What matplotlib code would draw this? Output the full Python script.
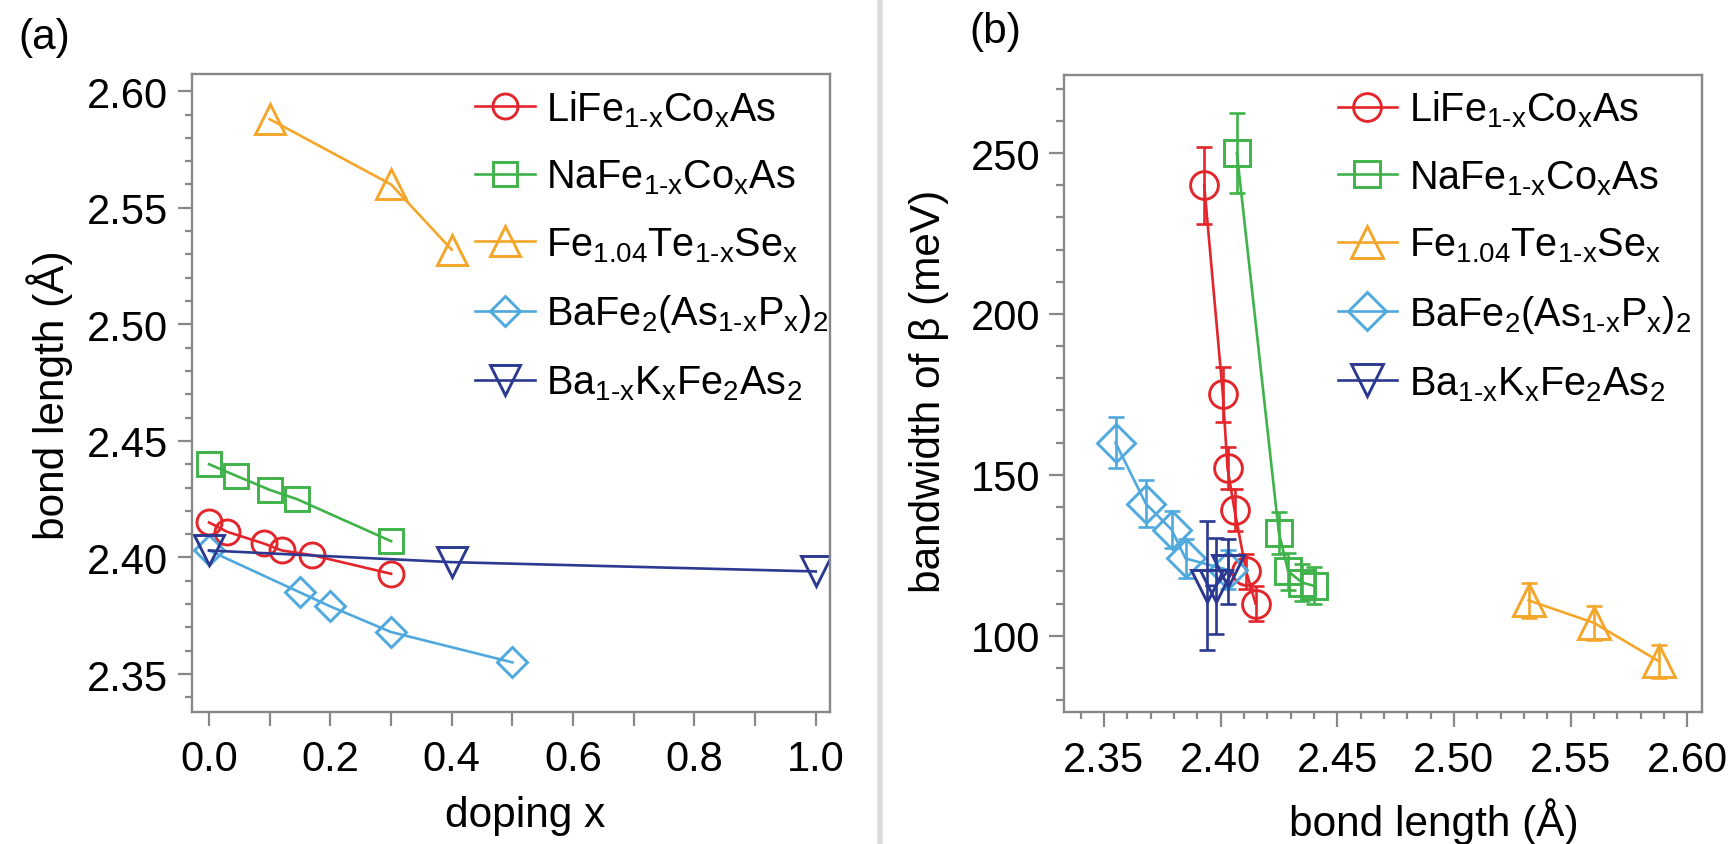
import numpy as np
import matplotlib
matplotlib.use('Agg')
import matplotlib.pyplot as plt
from matplotlib.ticker import MultipleLocator, FormatStrFormatter
from matplotlib.lines import Line2D

plt.rcParams['font.family'] = ['Liberation Sans', 'DejaVu Sans']
plt.rcParams['mathtext.fontset'] = 'custom'
plt.rcParams['mathtext.rm'] = 'Liberation Sans'
plt.rcParams['mathtext.it'] = 'Liberation Sans:italic'
plt.rcParams['mathtext.default'] = 'regular'

# series names
names = [r"LiFe$_{1\text{-}x}$Co$_{x}$As",
         r"NaFe$_{1\text{-}x}$Co$_{x}$As",
         r"Fe$_{1.04}$Te$_{1\text{-}x}$Se$_{x}$",
         r"BaFe$_{2}$(As$_{1\text{-}x}$P$_{x}$)$_{2}$",
         r"Ba$_{1\text{-}x}$K$_{x}$Fe$_{2}$As$_{2}$"]

# panel (a): doping x vs bond length
doping_li = [0.0, 0.03, 0.09, 0.12, 0.17, 0.30]
bond_li = [2.415, 2.411, 2.406, 2.403, 2.401, 2.393]
doping_na = [0.0, 0.045, 0.10, 0.145, 0.30]
bond_na = [2.440, 2.435, 2.429, 2.425, 2.407]
doping_fe = [0.10, 0.30, 0.40]
bond_fe = [2.588, 2.560, 2.532]
doping_p = [0.0, 0.15, 0.20, 0.30, 0.50]
bond_p = [2.403, 2.385, 2.379, 2.368, 2.355]
doping_k = [0.0, 0.40, 1.00]
bond_k = [2.403, 2.398, 2.394]

# panel (b): bandwidth of beta (meV) and its error, same order as bond lists
bw_li = [110, 120, 139, 152, 175, 240]
err_li = [5.5, 5.5, 6.5, 6.5, 8.5, 12]
bw_na = [115.5, 116.5, 120, 132, 250]
err_na = [5.7, 5.7, 5.7, 6.5, 12.4]
bw_fe = [92, 104, 111]
err_fe = [5, 5.3, 5.5]
bw_p = [120.5, 124, 133, 141, 160]
err_p = [6, 6, 5.7, 7.3, 8]
bw_k = [120, 115.5, 115.5]
err_k = [10, 15, 20]

colors = ['#e3262b', '#3fb34a', '#f4a62a', '#4fa9dd', '#2b3990']
markers = ['o', 's', '^', 'D', 'v']
ms_a = [18, 17.5, 22, 15, 22]
ms_b = [20, 18.5, 23.5, 19, 23.5]

FS_TICK = 30
FS_LAB = 30.5
FS_LEG = 28.5
spine_c = '#888888'

fig = plt.figure(figsize=(17.29, 8.45), dpi=100)
ax1 = fig.add_axes([0.1109, 0.1559, 0.3692, 0.7554])
ax2 = fig.add_axes([0.6155, 0.1559, 0.3687, 0.7546])

fig.add_artist(Line2D([0.509, 0.509], [0, 1], transform=fig.transFigure,
                      color='#dcdcdc', lw=4))

xs_a = [doping_li, doping_na, doping_fe, doping_p, doping_k]
ys = [bond_li, bond_na, bond_fe, bond_p, bond_k]
bws = [bw_li, bw_na, bw_fe, bw_p, bw_k]
errs = [err_li, err_na, err_fe, err_p, err_k]

for i in range(5):
    ax1.plot(xs_a[i], ys[i], color=colors[i], marker=markers[i], ms=ms_a[i],
             mfc='none', mec=colors[i], mew=2.1, lw=1.9, label=names[i])
    ax2.errorbar(ys[i], bws[i], yerr=errs[i], fmt='none', ecolor=colors[i],
                 elinewidth=1.9, capsize=5.5, capthick=1.9)
    ax2.plot(ys[i], bws[i], color=colors[i], marker=markers[i], ms=ms_b[i],
             mfc='none', mec=colors[i], mew=2.1, lw=1.9, label=names[i])

def style(ax):
    for s in ax.spines.values():
        s.set_color(spine_c)
        s.set_linewidth(1.7)
    ax.tick_params(which='both', direction='out', colors=spine_c,
                   labelcolor='black', labelsize=FS_TICK, width=1.6,
                   top=False, right=False)

# panel (a)
style(ax1)
ax1.set_xlim(-0.0285, 1.0236)
ax1.set_ylim(2.3336, 2.6074)
ax1.xaxis.set_major_locator(MultipleLocator(0.2))
ax1.xaxis.set_minor_locator(MultipleLocator(0.1))
ax1.xaxis.set_major_formatter(FormatStrFormatter('%.1f'))
ax1.yaxis.set_major_locator(MultipleLocator(0.05))
ax1.yaxis.set_minor_locator(MultipleLocator(0.01))
ax1.yaxis.set_major_formatter(FormatStrFormatter('%.2f'))
ax1.tick_params(axis='x', which='both', length=10, pad=9)
ax1.tick_params(axis='y', which='major', length=10, pad=7)
ax1.tick_params(axis='y', which='minor', length=5)
ax1.set_xlabel('doping x', fontsize=FS_LAB)
ax1.set_ylabel('bond length (Å)', fontsize=FS_LAB)
ax1.xaxis.set_label_coords(0.522, -0.161)
ax1.xaxis.label.set_verticalalignment('center')
ax1.yaxis.set_label_coords(-0.222, 0.499)
ax1.yaxis.label.set_verticalalignment('center')

# panel (b)
style(ax2)
ax2.set_xlim(2.333, 2.6062)
ax2.set_ylim(76.2, 274.4)
ax2.xaxis.set_major_locator(MultipleLocator(0.05))
ax2.xaxis.set_minor_locator(MultipleLocator(0.01))
ax2.xaxis.set_major_formatter(FormatStrFormatter('%.2f'))
ax2.yaxis.set_major_locator(MultipleLocator(50))
ax2.yaxis.set_minor_locator(MultipleLocator(10))
ax2.tick_params(axis='x', which='major', length=11, pad=9)
ax2.tick_params(axis='x', which='minor', length=5)
ax2.tick_params(axis='y', which='major', length=11, pad=6)
ax2.tick_params(axis='y', which='minor', length=6)
ax2.set_xlabel('bond length (Å)', fontsize=FS_LAB)
ax2.set_ylabel('bandwidth of β (meV)', fontsize=FS_LAB)
ax2.xaxis.set_label_coords(0.58, -0.170)
ax2.xaxis.label.set_verticalalignment('center')
ax2.yaxis.set_label_coords(-0.212, 0.505)
ax2.yaxis.label.set_verticalalignment('center')

for ax, x0 in [(ax1, 0.444), (ax2, 0.429)]:
    ax.legend(loc='upper left', bbox_to_anchor=(x0, 0.978), frameon=False,
              fontsize=FS_LEG, handlelength=1.5, handletextpad=0.3,
              labelspacing=0.73, borderpad=0, borderaxespad=0, numpoints=1)

fig.text(0.0254, 0.955, '(a)', fontsize=FS_LAB, ha='center', va='center')
fig.text(0.5755, 0.962, '(b)', fontsize=FS_LAB, ha='center', va='center')

fig.savefig('out.png', dpi=100)
